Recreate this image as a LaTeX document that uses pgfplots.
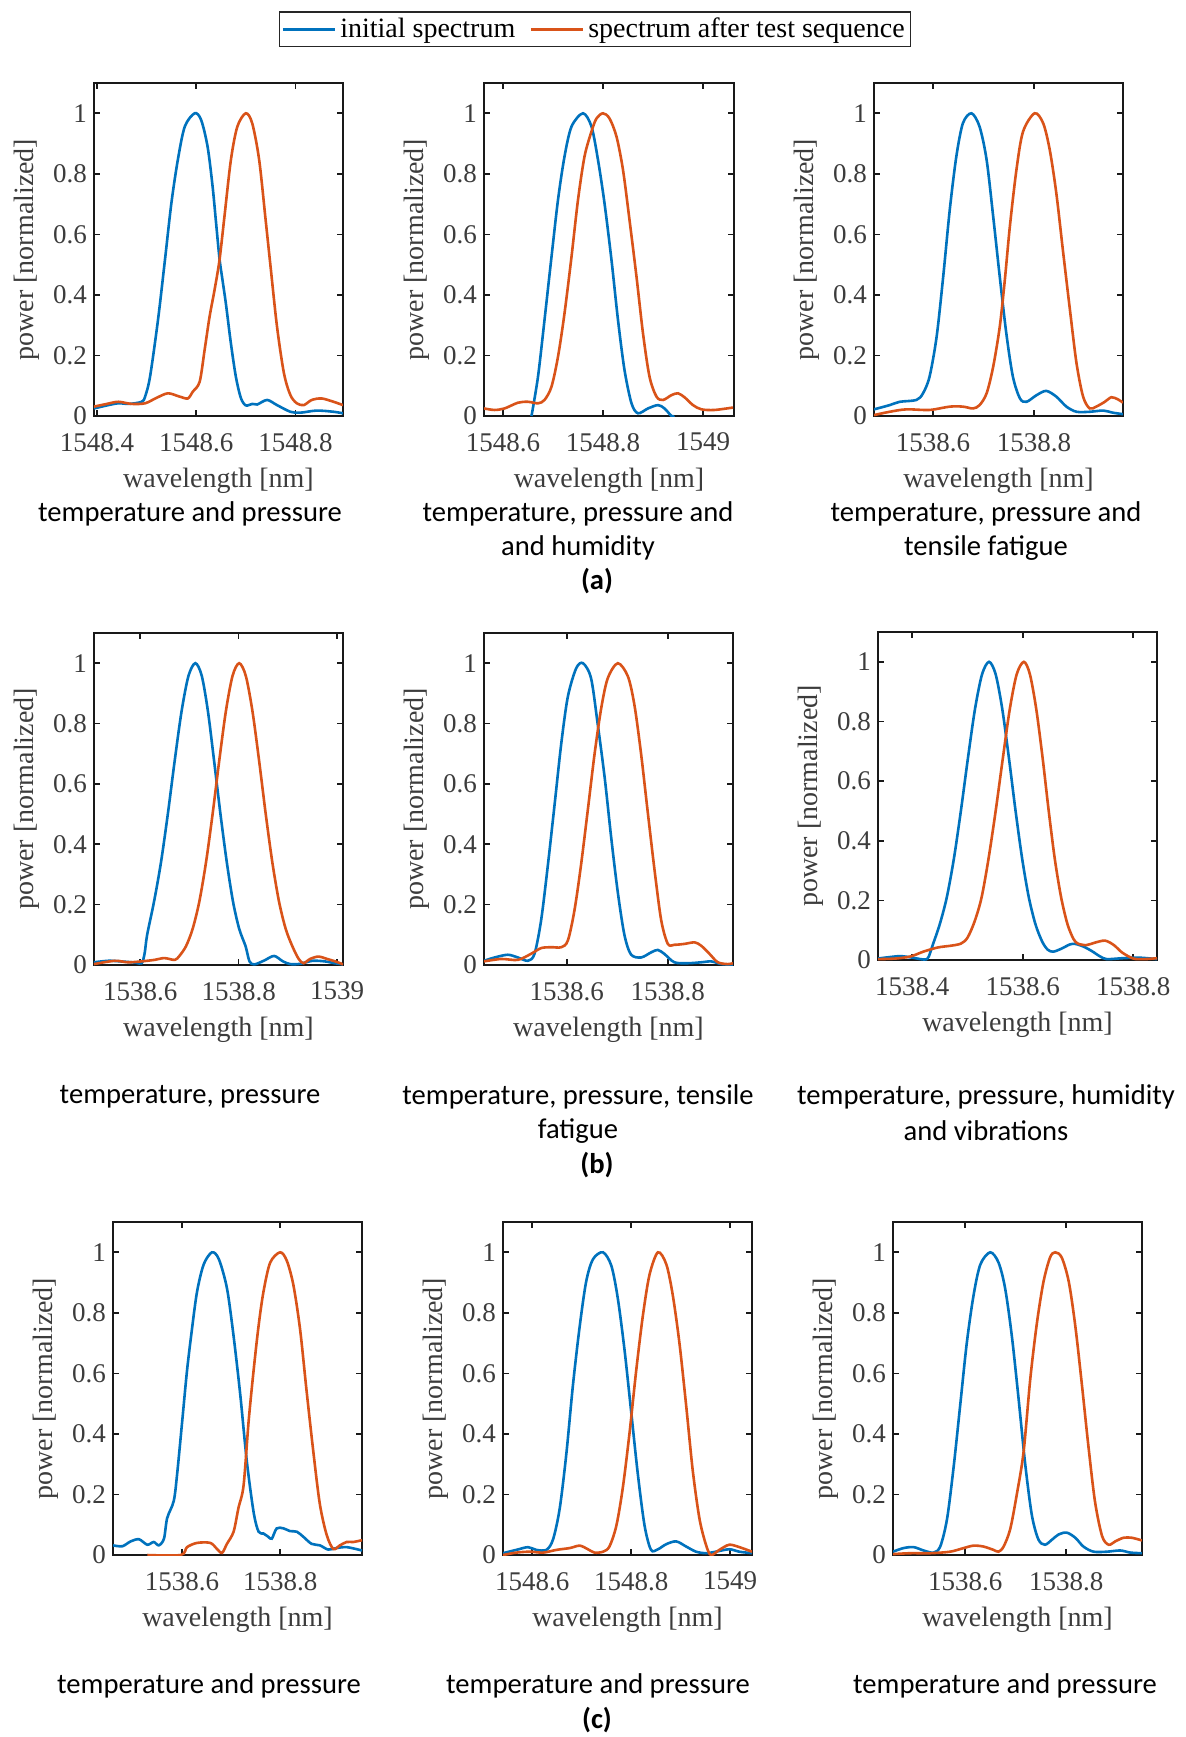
\documentclass[border=0pt]{standalone}
\usepackage{fontspec}
\setmainfont{Liberation Serif}
\newfontfamily\capfont{Carlito}
\usepackage{pgfplots}
\pgfplotsset{compat=1.18}
\definecolor{mblue}{RGB}{0,114,189}
\definecolor{morange}{RGB}{217,83,25}
\definecolor{axgray}{RGB}{60,60,60}
\newcommand\capsz{\capfont\fontsize{14.3}{17}\selectfont}

\pgfplotsset{
  spec/.style={
    scale only axis, ymin=0, ymax=1.1,
    ytick={0,0.2,0.4,0.6,0.8,1},
    xlabel={wavelength [nm]}, ylabel={power [normalized]},
    tick align=inside, major tick length=3pt,
    axis line style={line width=1.2pt, black!90},
    tick style={line width=0.8pt, black!90},
    tick label style={font=\fontsize{13.5}{14}\selectfont, text=axgray},
    label style={font=\fontsize{14}{15}\selectfont, text=axgray},
    xticklabel shift=5pt, xlabel shift=1.5pt,
    /pgf/number format/assume math mode=true,
    /pgf/number format/1000 sep={},
    every axis plot/.append style={line width=1.3pt, no markers, smooth, tension=0.5},
  },
}

\begin{document}
\begin{tikzpicture}
\path[use as bounding box] (0,0) rectangle (592.5pt,-868.5pt);

% ---------- row (a) ----------
\begin{axis}[spec, at={(47pt,-208pt)}, anchor=south west, width=124.5pt, height=166.5pt,
  xmin=1548.394, xmax=1548.896, xtick={1548.4,1548.6,1548.8}]
\addplot[mblue] coordinates {(1548.394,0.025)(1548.42,0.035)(1548.443,0.042)(1548.465,0.04)(1548.49,0.047)(1548.497,0.064)(1548.507,0.130)(1548.523,0.317)(1548.537,0.515)(1548.550,0.703)(1548.563,0.846)(1548.577,0.956)(1548.597,1.0)(1548.610,0.978)(1548.623,0.890)(1548.633,0.76)(1548.640,0.64)(1548.647,0.52)(1548.653,0.45)(1548.660,0.37)(1548.670,0.24)(1548.680,0.13)(1548.690,0.06)(1548.700,0.035)(1548.713,0.04)(1548.723,0.038)(1548.743,0.053)(1548.763,0.036)(1548.790,0.014)(1548.810,0.011)(1548.843,0.018)(1548.877,0.014)(1548.896,0.009)};
\addplot[morange] coordinates {(1548.394,0.031)(1548.42,0.04)(1548.443,0.047)(1548.47,0.04)(1548.497,0.042)(1548.52,0.06)(1548.543,0.075)(1548.565,0.065)(1548.583,0.058)(1548.593,0.080)(1548.607,0.113)(1548.617,0.218)(1548.627,0.328)(1548.637,0.416)(1548.647,0.515)(1548.657,0.659)(1548.670,0.846)(1548.683,0.956)(1548.700,1.0)(1548.713,0.967)(1548.727,0.846)(1548.740,0.648)(1548.750,0.493)(1548.763,0.295)(1548.777,0.141)(1548.790,0.069)(1548.803,0.042)(1548.817,0.036)(1548.833,0.053)(1548.853,0.058)(1548.877,0.047)(1548.896,0.036)};
\end{axis}

\begin{axis}[spec, at={(242pt,-208pt)}, anchor=south west, width=125pt, height=166.5pt,
  xmin=1548.562, xmax=1549.062, xtick={1548.6,1548.8,1549},
  legend style={at={(axis description cs:0.444,1.162)}, anchor=center, legend columns=2,
    draw=black!85, line width=0.8pt, font=\fontsize{14}{15}\selectfont, inner sep=1pt,
    /tikz/every even column/.append style={column sep=5pt}},
  legend image code/.code={\draw[#1, line width=1.5pt, sharp plot] (0pt,0pt) -- (26pt,0pt);}]
\addplot[mblue] coordinates {(1548.657,0)(1548.670,0.130)(1548.683,0.317)(1548.697,0.526)(1548.710,0.714)(1548.723,0.857)(1548.737,0.956)(1548.760,1.0)(1548.777,0.956)(1548.790,0.846)(1548.803,0.703)(1548.817,0.515)(1548.830,0.317)(1548.843,0.152)(1548.857,0.042)(1548.870,0.009)(1548.890,0.025)(1548.910,0.036)(1548.923,0.025)(1548.937,0.0)(1548.943,0.0)};
\addplot[morange] coordinates {(1548.562,0.025)(1548.583,0.020)(1548.603,0.025)(1548.630,0.044)(1548.650,0.047)(1548.670,0.042)(1548.683,0.053)(1548.697,0.097)(1548.710,0.196)(1548.723,0.339)(1548.737,0.526)(1548.750,0.714)(1548.763,0.857)(1548.777,0.940)(1548.787,0.983)(1548.800,1.0)(1548.813,0.983)(1548.827,0.923)(1548.840,0.813)(1548.853,0.648)(1548.867,0.460)(1548.880,0.273)(1548.893,0.130)(1548.907,0.064)(1548.920,0.053)(1548.937,0.069)(1548.950,0.075)(1548.963,0.062)(1548.980,0.036)(1548.997,0.022)(1549.023,0.020)(1549.060,0.028)};
\legend{initial spectrum, spectrum after test sequence}
\end{axis}

\begin{axis}[spec, at={(437pt,-208pt)}, anchor=south west, width=124.5pt, height=166.5pt,
  xmin=1538.483, xmax=1538.976, xtick={1538.6,1538.8}]
\addplot[mblue] coordinates {(1538.483,0.022)(1538.514,0.036)(1538.534,0.047)(1538.567,0.053)(1538.580,0.075)(1538.593,0.130)(1538.607,0.262)(1538.620,0.460)(1538.633,0.681)(1538.646,0.857)(1538.659,0.967)(1538.676,1.0)(1538.692,0.956)(1538.706,0.846)(1538.719,0.659)(1538.732,0.460)(1538.745,0.273)(1538.758,0.130)(1538.772,0.058)(1538.785,0.047)(1538.805,0.069)(1538.824,0.083)(1538.844,0.064)(1538.864,0.031)(1538.884,0.014)(1538.910,0.014)(1538.937,0.018)(1538.956,0.011)(1538.976,0.006)};
\addplot[morange] coordinates {(1538.483,0.003)(1538.514,0.014)(1538.547,0.022)(1538.593,0.020)(1538.633,0.031)(1538.659,0.031)(1538.679,0.025)(1538.692,0.036)(1538.706,0.075)(1538.719,0.163)(1538.732,0.295)(1538.742,0.449)(1538.752,0.626)(1538.765,0.813)(1538.778,0.939)(1538.801,1.0)(1538.818,0.967)(1538.831,0.879)(1538.844,0.736)(1538.857,0.548)(1538.871,0.350)(1538.884,0.174)(1538.897,0.064)(1538.910,0.025)(1538.923,0.031)(1538.940,0.047)(1538.953,0.062)(1538.966,0.055)(1538.976,0.044)};
\end{axis}

% ---------- row (b) ----------
\begin{axis}[spec, at={(47pt,-482.5pt)}, anchor=south west, width=124.5pt, height=166pt,
  xmin=1538.506, xmax=1539.012, xtick={1538.6,1538.8,1539}]
\addplot[mblue] coordinates {(1538.506,0.009)(1538.535,0.014)(1538.56,0.012)(1538.59,0.008)(1538.603,0.006)(1538.609,0.04)(1538.614,0.10)(1538.628,0.21)(1538.642,0.339)(1538.656,0.5)(1538.670,0.677)(1538.684,0.841)(1538.698,0.958)(1538.712,1.0)(1538.725,0.958)(1538.7375,0.841)(1538.750,0.677)(1538.763,0.5)(1538.776,0.339)(1538.7885,0.21)(1538.801,0.12)(1538.814,0.0625)(1538.822,0.012)(1538.832,0.002)(1538.852,0.015)(1538.872,0.03)(1538.89,0.012)(1538.905,0.003)(1538.925,0.004)(1538.95,0.014)(1538.975,0.012)(1538.995,0.006)(1539.012,0.002)};
\addplot[morange] coordinates {(1538.506,0.003)(1538.548,0.014)(1538.575,0.009)(1538.602,0.012)(1538.629,0.017)(1538.649,0.023)(1538.67,0.017)(1538.6795,0.03)(1538.693,0.0625)(1538.7065,0.12)(1538.72,0.21)(1538.7335,0.339)(1538.747,0.5)(1538.7605,0.677)(1538.774,0.841)(1538.7875,0.958)(1538.801,1.0)(1538.8145,0.958)(1538.828,0.841)(1538.8415,0.677)(1538.855,0.5)(1538.8685,0.339)(1538.882,0.21)(1538.8955,0.12)(1538.909,0.0625)(1538.922,0.02)(1538.932,0.006)(1538.945,0.02)(1538.962,0.028)(1538.98,0.02)(1539.0,0.01)(1539.012,0.002)};
\end{axis}

\begin{axis}[spec, at={(242pt,-482.5pt)}, anchor=south west, width=124.5pt, height=166pt,
  xmin=1538.436, xmax=1538.929, xtick={1538.6,1538.8}]
\addplot[mblue] coordinates {(1538.436,0.014)(1538.457,0.025)(1538.483,0.034)(1538.503,0.025)(1538.523,0.014)(1538.536,0.037)(1538.549,0.147)(1538.562,0.324)(1538.576,0.535)(1538.589,0.734)(1538.602,0.889)(1538.6185,0.983)(1538.632,1.0)(1538.648,0.95)(1538.661,0.80)(1538.675,0.62)(1538.688,0.42)(1538.701,0.24)(1538.714,0.10)(1538.727,0.035)(1538.747,0.025)(1538.767,0.042)(1538.780,0.050)(1538.793,0.037)(1538.813,0.009)(1538.840,0.006)(1538.866,0.009)(1538.886,0.012)(1538.906,0.003)(1538.929,0.001)};
\addplot[morange] coordinates {(1538.436,0.012)(1538.47,0.020)(1538.503,0.017)(1538.529,0.037)(1538.549,0.056)(1538.569,0.059)(1538.589,0.059)(1538.602,0.081)(1538.615,0.18)(1538.628,0.33)(1538.642,0.52)(1538.655,0.70)(1538.668,0.85)(1538.681,0.95)(1538.701,1.0)(1538.721,0.956)(1538.734,0.86)(1538.747,0.70)(1538.760,0.51)(1538.774,0.31)(1538.787,0.147)(1538.800,0.07)(1538.813,0.067)(1538.833,0.07)(1538.853,0.075)(1538.866,0.064)(1538.8825,0.037)(1538.899,0.009)(1538.919,0.003)(1538.929,0.006)};
\end{axis}

\begin{axis}[spec, at={(439pt,-480pt)}, anchor=south west, width=139.5pt, height=164pt,
  xmin=1538.338, xmax=1538.843, xtick={1538.4,1538.6,1538.8}]
\addplot[mblue] coordinates {(1538.338,0.005)(1538.36,0.01)(1538.379,0.013)(1538.40,0.008)(1538.415,0.003)(1538.425,0.002)(1538.43,0.012)(1538.437,0.05)(1538.4498,0.12)(1538.4625,0.21)(1538.4753,0.339)(1538.488,0.5)(1538.5008,0.677)(1538.5135,0.841)(1538.5263,0.958)(1538.539,1.0)(1538.551,0.958)(1538.563,0.841)(1538.575,0.677)(1538.587,0.5)(1538.599,0.339)(1538.611,0.21)(1538.623,0.12)(1538.635,0.0625)(1538.645,0.035)(1538.655,0.028)(1538.67,0.038)(1538.685,0.052)(1538.695,0.054)(1538.71,0.045)(1538.725,0.03)(1538.74,0.012)(1538.752,0.003)(1538.78,0.006)(1538.81,0.008)(1538.843,0.003)};
\addplot[morange] coordinates {(1538.338,0.003)(1538.37,0.005)(1538.397,0.012)(1538.42,0.028)(1538.446,0.042)(1538.47,0.048)(1538.488,0.055)(1538.5,0.075)(1538.513,0.13)(1538.5255,0.21)(1538.538,0.339)(1538.551,0.5)(1538.564,0.677)(1538.5765,0.841)(1538.589,0.958)(1538.602,1.0)(1538.613,0.958)(1538.6245,0.841)(1538.636,0.677)(1538.647,0.5)(1538.658,0.339)(1538.6695,0.21)(1538.681,0.12)(1538.692,0.07)(1538.70,0.055)(1538.715,0.05)(1538.73,0.058)(1538.749,0.065)(1538.765,0.05)(1538.78,0.025)(1538.80,0.005)(1538.82,0.003)(1538.843,0.006)};
\end{axis}

% ---------- row (c) ----------
\begin{axis}[spec, at={(56.5pt,-777.5pt)}, anchor=south west, width=124.5pt, height=166.5pt,
  xmin=1538.459, xmax=1538.967, xtick={1538.6,1538.8}]
\addplot[mblue] coordinates {(1538.459,0.032)(1538.478,0.029)(1538.495,0.045)(1538.512,0.052)(1538.529,0.034)(1538.542,0.043)(1538.5525,0.032)(1538.563,0.054)(1538.5695,0.122)(1538.583,0.179)(1538.590,0.270)(1538.600,0.439)(1538.610,0.609)(1538.620,0.745)(1538.6305,0.870)(1538.644,0.960)(1538.661,1.0)(1538.675,0.977)(1538.6915,0.881)(1538.705,0.723)(1538.7186,0.530)(1538.732,0.31)(1538.746,0.14)(1538.756,0.077)(1538.766,0.071)(1538.776,0.060)(1538.783,0.054)(1538.793,0.088)(1538.807,0.088)(1538.820,0.079)(1538.834,0.077)(1538.8475,0.060)(1538.864,0.037)(1538.881,0.032)(1538.898,0.018)(1538.915,0.023)(1538.936,0.026)(1538.967,0.015)};
\addplot[morange] coordinates {(1538.529,0.0)(1538.597,0.0)(1538.610,0.026)(1538.6305,0.040)(1538.6576,0.040)(1538.6712,0.020)(1538.6814,0.007)(1538.6915,0.037)(1538.705,0.077)(1538.715,0.156)(1538.7254,0.23)(1538.7356,0.44)(1538.7458,0.609)(1538.756,0.757)(1538.766,0.870)(1538.7797,0.966)(1538.80,1.0)(1538.8136,0.972)(1538.827,0.892)(1538.8407,0.745)(1538.854,0.541)(1538.868,0.337)(1538.881,0.168)(1538.895,0.066)(1538.9085,0.020)(1538.922,0.032)(1538.9356,0.043)(1538.949,0.043)(1538.967,0.049)};
\end{axis}

\begin{axis}[spec, at={(251.5pt,-777.5pt)}, anchor=south west, width=124.5pt, height=166.5pt,
  xmin=1548.541, xmax=1549.044, xtick={1548.6,1548.8,1549}]
\addplot[mblue] coordinates {(1548.541,0.006)(1548.568,0.017)(1548.5916,0.026)(1548.608,0.017)(1548.6286,0.017)(1548.642,0.051)(1548.6555,0.153)(1548.669,0.335)(1548.6824,0.563)(1548.696,0.756)(1548.709,0.903)(1548.7227,0.977)(1548.743,1.0)(1548.760,0.955)(1548.773,0.847)(1548.7866,0.676)(1548.80,0.472)(1548.8134,0.267)(1548.827,0.097)(1548.840,0.017)(1548.854,0.019)(1548.871,0.036)(1548.891,0.045)(1548.911,0.028)(1548.931,0.011)(1548.951,0.006)(1548.971,0.011)(1548.998,0.019)(1549.0185,0.011)(1549.044,0.006)};
\addplot[morange] coordinates {(1548.541,0.0)(1548.568,0.008)(1548.595,0.011)(1548.622,0.008)(1548.649,0.017)(1548.676,0.023)(1548.696,0.031)(1548.7126,0.019)(1548.726,0.008)(1548.743,0.011)(1548.756,0.028)(1548.770,0.097)(1548.783,0.222)(1548.7966,0.403)(1548.810,0.608)(1548.8235,0.790)(1548.837,0.926)(1548.854,1.0)(1548.871,0.960)(1548.884,0.858)(1548.8975,0.699)(1548.911,0.494)(1548.9244,0.278)(1548.938,0.119)(1548.951,0.034)(1548.961,0.0)(1548.978,0.017)(1548.998,0.034)(1549.0185,0.026)(1549.044,0.011)};
\end{axis}

\begin{axis}[spec, at={(446.5pt,-777.5pt)}, anchor=south west, width=124.5pt, height=166.5pt,
  xmin=1538.457, xmax=1538.950, xtick={1538.6,1538.8}]
\addplot[mblue] coordinates {(1538.457,0.011)(1538.478,0.023)(1538.498,0.026)(1538.5175,0.015)(1538.537,0.008)(1538.5505,0.028)(1538.564,0.119)(1538.577,0.290)(1538.590,0.494)(1538.603,0.699)(1538.6165,0.858)(1538.630,0.960)(1538.6495,1.0)(1538.666,0.966)(1538.679,0.881)(1538.6924,0.722)(1538.7056,0.517)(1538.7188,0.30)(1538.732,0.131)(1538.745,0.051)(1538.758,0.034)(1538.772,0.051)(1538.785,0.068)(1538.801,0.074)(1538.818,0.057)(1538.834,0.028)(1538.854,0.011)(1538.8805,0.011)(1538.907,0.015)(1538.927,0.008)(1538.950,0.006)};
\addplot[morange] coordinates {(1538.457,0.003)(1538.491,0.006)(1538.531,0.006)(1538.570,0.011)(1538.597,0.023)(1538.6165,0.031)(1538.636,0.028)(1538.656,0.017)(1538.666,0.011)(1538.676,0.028)(1538.689,0.085)(1538.702,0.199)(1538.7155,0.34)(1538.729,0.585)(1538.742,0.767)(1538.755,0.903)(1538.768,0.983)(1538.778,1.0)(1538.791,0.983)(1538.805,0.903)(1538.818,0.756)(1538.831,0.563)(1538.844,0.358)(1538.857,0.176)(1538.871,0.0625)(1538.884,0.034)(1538.897,0.045)(1538.9135,0.057)(1538.930,0.057)(1538.950,0.048)};
\end{axis}

% ---------- captions ----------
\node[font=\capsz] at (95pt,-257pt) {temperature and pressure};
\node[font=\capsz] at (289pt,-257pt) {temperature, pressure and};
\node[font=\capsz] at (289pt,-274pt) {and humidity};
\node[font=\capsz] at (493pt,-257pt) {temperature, pressure and};
\node[font=\capsz] at (493pt,-274pt) {tensile fatigue};
\node[font=\capsz\bfseries] at (298.5pt,-290.5pt) {(a)};

\node[font=\capsz] at (95pt,-548.5pt) {temperature, pressure};
\node[font=\capsz] at (289pt,-548.5pt) {temperature, pressure, tensile};
\node[font=\capsz] at (289pt,-565.5pt) {fatigue};
\node[font=\capsz] at (493pt,-548.5pt) {temperature, pressure, humidity};
\node[font=\capsz] at (493pt,-565.5pt) {and vibrations};
\node[font=\capsz\bfseries] at (298.5pt,-582.5pt) {(b)};

\node[font=\capsz] at (104.5pt,-843pt) {temperature and pressure};
\node[font=\capsz] at (299pt,-843pt) {temperature and pressure};
\node[font=\capsz] at (502.5pt,-843pt) {temperature and pressure};
\node[font=\capsz\bfseries] at (298.5pt,-860pt) {(c)};
\end{tikzpicture}
\end{document}
